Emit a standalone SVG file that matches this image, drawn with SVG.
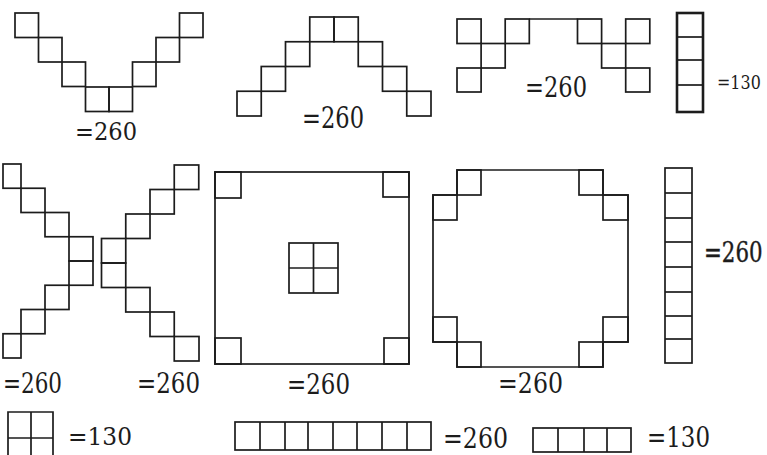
<svg xmlns="http://www.w3.org/2000/svg" width="767" height="455" viewBox="0 0 767 455">
<style>
.c{fill:none;stroke:#1c1c1c;stroke-width:1.7;stroke-linejoin:miter}
.k{fill:none;stroke:#1c1c1c;stroke-width:2.6}
.t{font-family:"DejaVu Serif",serif;fill:#1c1c1c}
</style>
<rect width="767" height="455" fill="#ffffff"/>

<g id="fig-v">
<rect class="c" x="15" y="13" width="23.5" height="24.5"/>
<rect class="c" x="38.5" y="37.5" width="23.5" height="24.5"/>
<rect class="c" x="62" y="62" width="23.5" height="24.5"/>
<rect class="c" x="85.5" y="87" width="23.5" height="24.5"/>
<rect class="c" x="109" y="87" width="23.5" height="24.5"/>
<rect class="c" x="132.5" y="62" width="23.5" height="24.5"/>
<rect class="c" x="156" y="37.5" width="23.5" height="24.5"/>
<rect class="c" x="179.5" y="13" width="23.5" height="24.5"/>
<text class="t" x="75" y="140" font-size="24" textLength="62" lengthAdjust="spacingAndGlyphs">=260</text>
</g>

<g id="fig-arch">
<rect class="c" x="237" y="91.25" width="24.25" height="24.75"/>
<rect class="c" x="261.25" y="66.5" width="24.25" height="24.75"/>
<rect class="c" x="285.5" y="41.75" width="24.25" height="24.75"/>
<rect class="c" x="309.75" y="17" width="24.25" height="24.75"/>
<rect class="c" x="334" y="17" width="24.25" height="24.75"/>
<rect class="c" x="358.25" y="41.75" width="24.25" height="24.75"/>
<rect class="c" x="382.5" y="66.5" width="24.25" height="24.75"/>
<rect class="c" x="406.75" y="91.25" width="24.25" height="24.75"/>
<text class="t" x="302" y="128" font-size="29" textLength="62" lengthAdjust="spacingAndGlyphs">=260</text>
</g>

<g id="fig-m">
<rect class="c" x="457" y="19" width="24.1" height="24.5"/>
<rect class="c" x="505.2" y="19" width="24.1" height="24.5"/>
<rect class="c" x="577.5" y="19" width="24.1" height="24.5"/>
<rect class="c" x="625.7" y="19" width="24.1" height="24.5"/>
<rect class="c" x="481.1" y="43.5" width="24.1" height="24.5"/>
<rect class="c" x="601.6" y="43.5" width="24.1" height="24.5"/>
<rect class="c" x="457" y="68" width="24.1" height="24"/>
<rect class="c" x="625.7" y="68" width="24.1" height="24"/>
<line class="c" x1="529.3" y1="19" x2="577.5" y2="19"/>
<text class="t" x="525" y="97" font-size="27" textLength="62" lengthAdjust="spacingAndGlyphs">=260</text>
</g>

<g id="col4">
<rect class="k" x="677" y="13" width="26" height="99"/>
<line class="c" x1="677" y1="37" x2="703" y2="37"/>
<line class="c" x1="677" y1="60" x2="703" y2="60"/>
<line class="c" x1="677" y1="85" x2="703" y2="85"/>
<text class="t" transform="translate(717,89) scale(0.84,1)" font-size="19">=130</text>
</g>

<g id="fig-gt">
<rect class="c" x="3" y="164" width="18" height="24.25"/>
<rect class="c" x="21" y="188.25" width="24" height="24.25"/>
<rect class="c" x="45" y="212.5" width="24" height="24.25"/>
<rect class="c" x="69" y="236.75" width="24" height="24.25"/>
<rect class="c" x="69" y="261" width="24" height="24.25"/>
<rect class="c" x="45" y="285.25" width="24" height="24.25"/>
<rect class="c" x="21" y="309.5" width="24" height="24.25"/>
<rect class="c" x="3" y="333.75" width="18" height="24.25"/>
<text class="t" x="3" y="393" font-size="27" textLength="59" lengthAdjust="spacingAndGlyphs">=260</text>
</g>

<g id="fig-lt">
<rect class="c" x="174.25" y="165" width="24.5" height="24.5"/>
<rect class="c" x="150" y="189.5" width="24.25" height="24.5"/>
<rect class="c" x="125.75" y="214" width="24.25" height="24.5"/>
<rect class="c" x="101.5" y="238.5" width="24.25" height="24.5"/>
<rect class="c" x="101.5" y="263" width="24.25" height="24.5"/>
<rect class="c" x="125.75" y="287.5" width="24.25" height="24.5"/>
<rect class="c" x="150" y="312" width="24.25" height="24.5"/>
<rect class="c" x="174.25" y="336.5" width="24.75" height="24.5"/>
<text class="t" x="137" y="393" font-size="27" textLength="63" lengthAdjust="spacingAndGlyphs">=260</text>
</g>

<g id="fig-square">
<rect class="c" x="215" y="172" width="194" height="192"/>
<rect class="c" x="215" y="172" width="26" height="26"/>
<rect class="c" x="383" y="172" width="26" height="25"/>
<rect class="c" x="215" y="338" width="26" height="26"/>
<rect class="c" x="384" y="338" width="25" height="26"/>
<rect class="c" x="289" y="243" width="49" height="50"/>
<line class="c" x1="313.5" y1="243" x2="313.5" y2="293"/>
<line class="c" x1="289" y1="268" x2="338" y2="268"/>
<text class="t" x="287" y="394" font-size="27" textLength="63" lengthAdjust="spacingAndGlyphs">=260</text>
</g>

<g id="fig-oct">
<path class="c" d="M457,170 H603 V195 H628 V342 H603 V367 H457 V342 H433 V195 H457 Z"/>
<rect class="c" x="457" y="170" width="24" height="25"/>
<rect class="c" x="579" y="170" width="24" height="25"/>
<rect class="c" x="433" y="195" width="24" height="25"/>
<rect class="c" x="603" y="195" width="25" height="25"/>
<rect class="c" x="433" y="317" width="24" height="25"/>
<rect class="c" x="603" y="317" width="25" height="25"/>
<rect class="c" x="457" y="342" width="24" height="25"/>
<rect class="c" x="579" y="342" width="24" height="25"/>
<text class="t" x="498" y="393" font-size="27" textLength="65" lengthAdjust="spacingAndGlyphs">=260</text>
</g>

<g id="col8">
<rect class="c" x="665" y="168" width="27" height="195"/>
<line class="c" x1="665" y1="193" x2="692" y2="193"/>
<line class="c" x1="665" y1="218" x2="692" y2="218"/>
<line class="c" x1="665" y1="242" x2="692" y2="242"/>
<line class="c" x1="665" y1="267" x2="692" y2="267"/>
<line class="c" x1="665" y1="292" x2="692" y2="292"/>
<line class="c" x1="665" y1="316" x2="692" y2="316"/>
<line class="c" x1="665" y1="339" x2="692" y2="339"/>
<text class="t" transform="translate(704,262) scale(0.79,1)" font-size="27" stroke="#1c1c1c" stroke-width="0.4">=260</text>
</g>

<g id="sq2">
<path class="c" d="M8,455 V412 H53 V455 M31,412 V455 M8,438 H53"/>
<text class="t" x="68" y="445" font-size="24" textLength="64" lengthAdjust="spacingAndGlyphs">=130</text>
</g>

<g id="row8">
<rect class="c" x="235" y="422" width="196" height="28"/>
<line class="c" x1="260" y1="422" x2="260" y2="450"/>
<line class="c" x1="285" y1="422" x2="285" y2="450"/>
<line class="c" x1="308" y1="422" x2="308" y2="450"/>
<line class="c" x1="333" y1="422" x2="333" y2="450"/>
<line class="c" x1="357" y1="422" x2="357" y2="450"/>
<line class="c" x1="382" y1="422" x2="382" y2="450"/>
<line class="c" x1="407" y1="422" x2="407" y2="450"/>
<text class="t" x="443" y="448" font-size="27" textLength="65" lengthAdjust="spacingAndGlyphs">=260</text>
</g>

<g id="row4">
<rect class="c" x="533" y="428" width="98" height="24"/>
<line class="c" x1="558" y1="428" x2="558" y2="452"/>
<line class="c" x1="584" y1="428" x2="584" y2="452"/>
<line class="c" x1="607" y1="428" x2="607" y2="452"/>
<text class="t" x="647" y="447" font-size="27" textLength="63" lengthAdjust="spacingAndGlyphs">=130</text>
</g>
</svg>
